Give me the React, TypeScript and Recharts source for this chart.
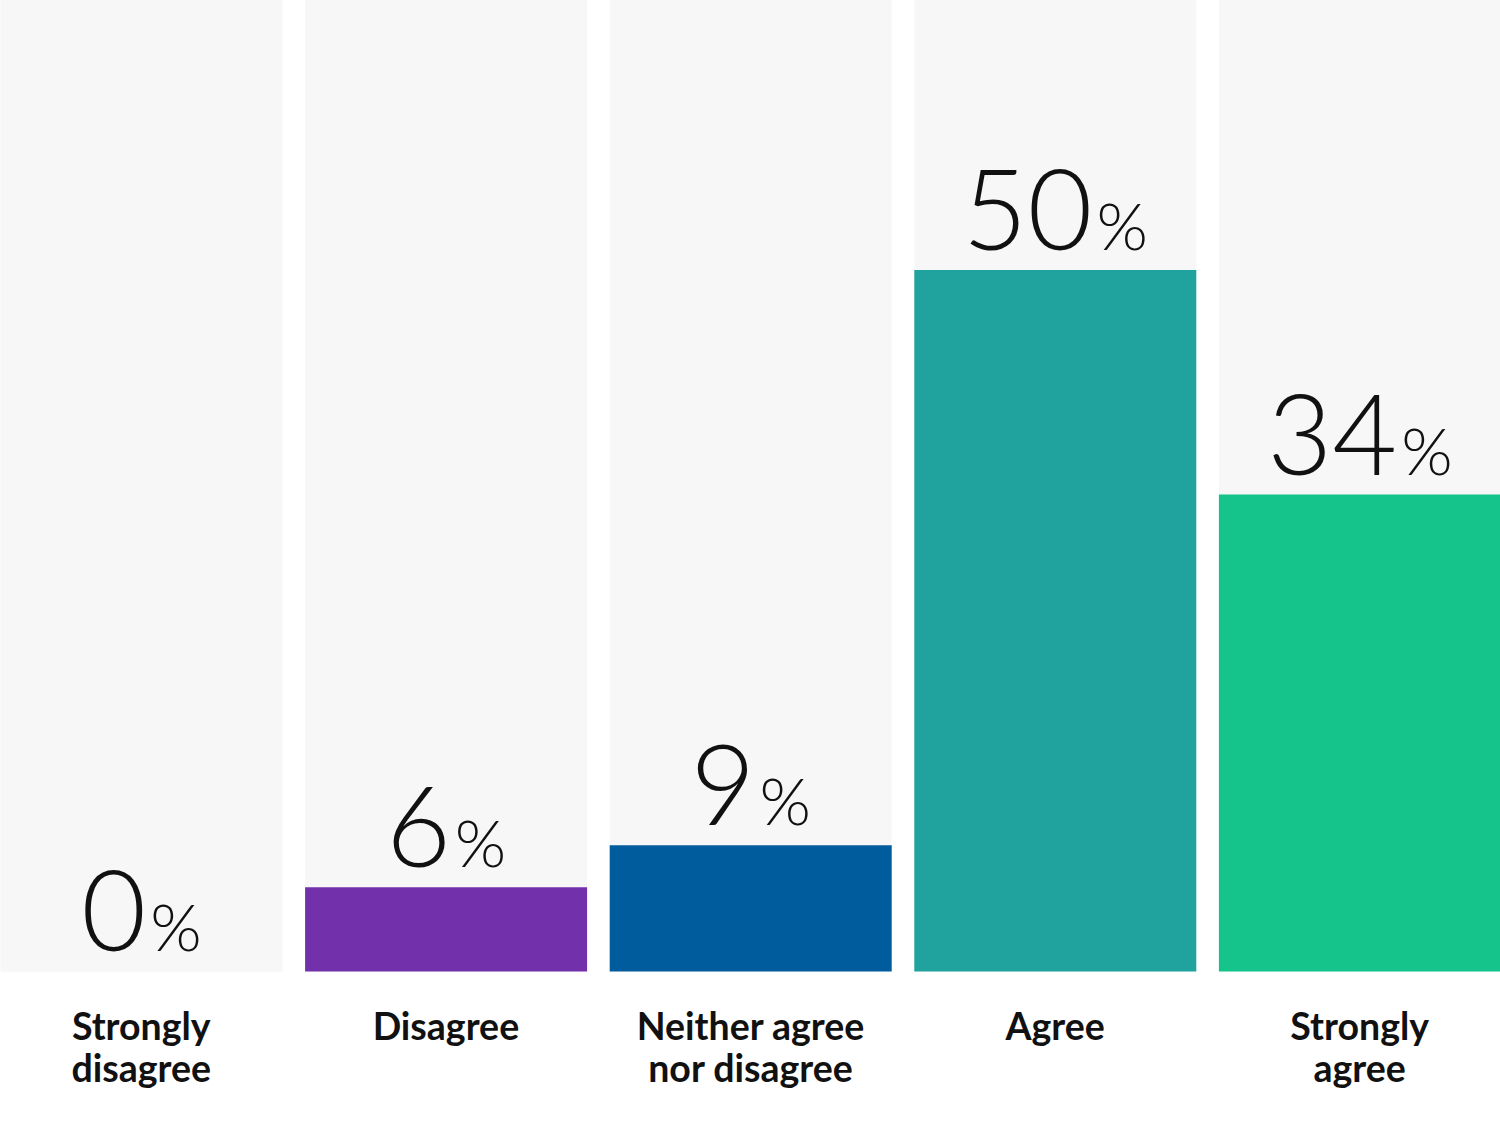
import React from 'react';
import { BarChart, Bar, XAxis, YAxis, Cell, LabelList } from 'recharts';

const categories = ['Strongly disagree', 'Disagree', 'Neither agree nor disagree', 'Agree', 'Strongly agree'];
const tickLines = [
  ['Strongly', 'disagree'],
  ['Disagree'],
  ['Neither agree', 'nor disagree'],
  ['Agree'],
  ['Strongly', 'agree'],
];
const shares = [0, 6, 9, 50, 34];
const barColors = ['#f7f7f7', '#7330ab', '#005c9d', '#20a39e', '#14c48b'];

const data = categories.map((name, i) => ({ name, value: shares[i] }));

const CategoryTick = (props: any) => {
  const { x, y, index } = props;
  const lines = tickLines[index] || [];
  return (
    <text
      x={x}
      y={y}
      textAnchor="middle"
      fill="#111"
      style={{ fontFamily: 'Lato, sans-serif', fontWeight: 700, fontSize: 37.5 }}
    >
      {lines.map((l, i) => (
        <tspan key={i} x={x} dy={i === 0 ? 60 : 42}>
          {l}
        </tspan>
      ))}
    </text>
  );
};

const ValueLabel = (props: any) => {
  const { x, y, width, value } = props;
  return (
    <text
      x={x + width / 2}
      y={y - 20}
      textAnchor="middle"
      fill="#111"
      style={{ fontFamily: 'Lato, sans-serif', fontWeight: 300 }}
    >
      <tspan fontSize={112}>{value}</tspan>
      <tspan fontSize={66} dx={4}>%</tspan>
    </text>
  );
};

export default function App() {
  return (
    <div style={{ position: 'absolute', left: 0, top: 0, width: 1500, height: 1133, overflow: 'hidden', background: '#fff' }}>
      <div style={{ marginLeft: -11.5 }}>
        <BarChart
          width={1523}
          height={1133}
          data={data}
          margin={{ top: 0, right: 0, bottom: 0, left: 0 }}
          barCategoryGap={11.5}
        >
          <XAxis
            dataKey="name"
            axisLine={false}
            tickLine={false}
            height={161.5}
            interval={0}
            tick={<CategoryTick />}
          />
          <YAxis hide domain={[0, 69.25]} />
          <Bar
            dataKey="value"
            background={{ fill: '#f7f7f7' }}
            minPointSize={1}
            isAnimationActive={false}
          >
            {data.map((d, i) => (
              <Cell key={d.name} fill={barColors[i]} />
            ))}
            <LabelList dataKey="value" content={<ValueLabel />} />
          </Bar>
        </BarChart>
      </div>
    </div>
  );
}
